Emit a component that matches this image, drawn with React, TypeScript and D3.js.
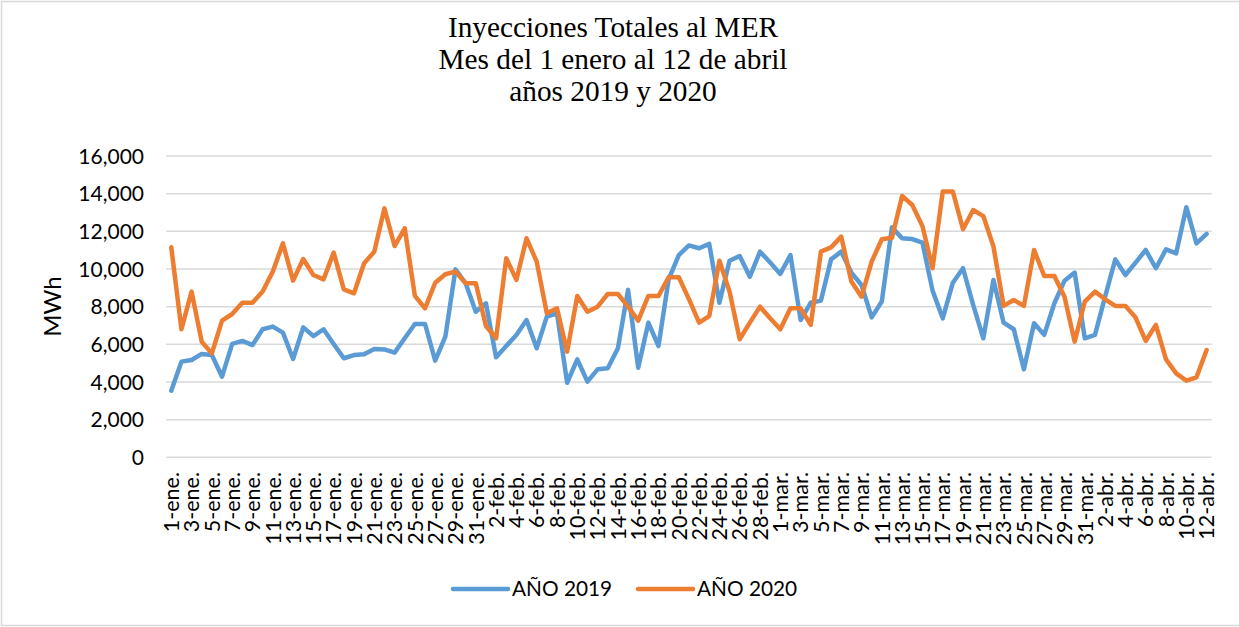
import React from 'react';
import * as d3 from 'd3';

// categorias: 1 ene a 12 abr 2020 (103 dias)
const mesesCortos = ['ene', 'feb', 'mar', 'abr'];
const dias = d3.timeDay.range(new Date(2020, 0, 1), new Date(2020, 3, 13));
const categorias = dias.map(d => `${d.getDate()}-${mesesCortos[d.getMonth()]}.`);

const ano2019 = [
  3540, 5080, 5170, 5490, 5430, 4280, 6020, 6180, 5960, 6800, 6940, 6620, 5220, 6900, 6440, 6800,
  6020, 5260, 5430, 5470, 5750, 5730, 5560, 6320, 7080, 7080, 5130, 6410, 9980, 9240, 7730,
  8180, 5310, 5910, 6500, 7290, 5790, 7470, 7650, 3960, 5200, 4020, 4670, 4730, 5790, 8890,
  4760, 7150, 5910, 9450, 10740, 11250, 11100, 11330, 8210, 10440, 10690, 9590, 10920, 10340,
  9740, 10740, 7290, 8210, 8320, 10510, 10920, 9810, 9150, 7430, 8270, 12210, 11630, 11590,
  11400, 8850, 7380, 9270, 10040, 8090, 6320, 9420, 7150, 6800, 4670, 7120, 6500, 8180, 9380,
  9810, 6320, 6500, 8530, 10510, 9680, 10340, 11010, 10040, 11040, 10830, 13280, 11360, 11860
];

const ano2020 = [
  11150, 6800, 8800, 6140, 5520, 7260, 7610, 8210, 8210, 8800, 9860, 11360, 9380, 10530, 9680,
  9450, 10870, 8920, 8710, 10300, 10920, 13220, 11220, 12160, 8570, 7910, 9270, 9720, 9860, 9240,
  9240, 6970, 6320, 10570, 9420, 11630, 10390, 7650, 7910, 5610, 8570, 7730, 8000, 8670, 8670,
  8000, 7260, 8570, 8570, 9560, 9560, 8400, 7150, 7500, 10440, 8800, 6270, 7150, 8000, 7380,
  6800, 7910, 7910, 7030, 10920, 11150, 11720, 9330, 8530, 10390, 11580, 11660, 13880, 13400,
  12280, 10040, 14110, 14110, 12110, 13130, 12810, 11190, 8040, 8350, 8040, 11010, 9630, 9630,
  8530, 6140, 8270, 8800, 8390, 8040, 8040, 7420, 6180, 7030, 5200, 4460, 4070, 4250, 5700
];

const yTicks = [0, 2000, 4000, 6000, 8000, 10000, 12000, 14000, 16000];
const titulo = ['Inyecciones Totales al MER', 'Mes del 1 enero al 12 de abril', 'años 2019 y 2020'];
const series = [
  { name: 'AÑO 2019', values: ano2019, color: '#5b9bd5' },
  { name: 'AÑO 2020', values: ano2020, color: '#ed7d31' }
];

const W = 1239,
  H = 627;
const plot = { left: 166.2, right: 1211.7, top: 156, bottom: 457.3 };
const sans = 'Lato, "Open Sans", sans-serif';

export default function App() {
  const x = d3
    .scaleBand<number>()
    .domain(categorias.map((_, i) => i))
    .range([plot.left, plot.right]);
  const y = d3
    .scaleLinear()
    .domain([0, 16000])
    .range([plot.bottom, plot.top]);
  const cx = (i: number) => (x(i) as number) + x.bandwidth() / 2;
  const line = d3
    .line<number>()
    .x((_, i) => cx(i))
    .y(d => y(d));
  const fmt = d3.format(',');

  return (
    <div style={{ position: 'absolute', left: 0, top: 0 }}>
      <svg width={W} height={H} style={{ display: 'block', background: '#fff' }}>
        <rect x={1.5} y={1.5} width={W + 5} height={624} fill="#fff" stroke="#d9d9d9" strokeWidth={1.5} />
        {titulo.map((t, i) => (
          <text
            key={i}
            x={613}
            y={37 + i * 32}
            textAnchor="middle"
            style={{ fontFamily: '"Liberation Serif", "Times New Roman", serif', fontSize: 29.3, fill: '#000' }}
          >
            {t}
          </text>
        ))}
        {yTicks.map(t => (
          <g key={t}>
            <line x1={plot.left} x2={plot.right} y1={y(t)} y2={y(t)} stroke="#d9d9d9" strokeWidth={1.5} />
            <text
              x={144}
              y={y(t)}
              dy="0.36em"
              textAnchor="end"
              style={{ fontFamily: sans, fontSize: 21, fill: '#000' }}
            >
              {fmt(t)}
            </text>
          </g>
        ))}
        <text
          transform={`translate(61, ${(plot.top + plot.bottom) / 2}) rotate(-90)`}
          textAnchor="middle"
          style={{ fontFamily: sans, fontSize: 24, fill: '#000' }}
        >
          MWh
        </text>
        {categorias.map((c, i) =>
          i % 2 === 0 ? (
            <text
              key={c}
              transform={`translate(${cx(i)}, 472) rotate(-90)`}
              textAnchor="end"
              dy="0.36em"
              style={{ fontFamily: sans, fontSize: 21.5, fill: '#000' }}
            >
              {c}
            </text>
          ) : null
        )}
        {series.map(s => (
          <path
            key={s.name}
            d={line(s.values) || ''}
            fill="none"
            stroke={s.color}
            strokeWidth={4.5}
            strokeLinejoin="round"
            strokeLinecap="round"
          />
        ))}
        {series.map((s, i) => {
          const lx = 453 + i * 185;
          return (
            <g key={s.name}>
              <line x1={lx} x2={lx + 55} y1={589} y2={589} stroke={s.color} strokeWidth={4.5} strokeLinecap="round" />
              <text x={lx + 59} y={596} style={{ fontFamily: sans, fontSize: 20.8, fill: '#000' }}>
                {s.name}
              </text>
            </g>
          );
        })}
      </svg>
    </div>
  );
}
